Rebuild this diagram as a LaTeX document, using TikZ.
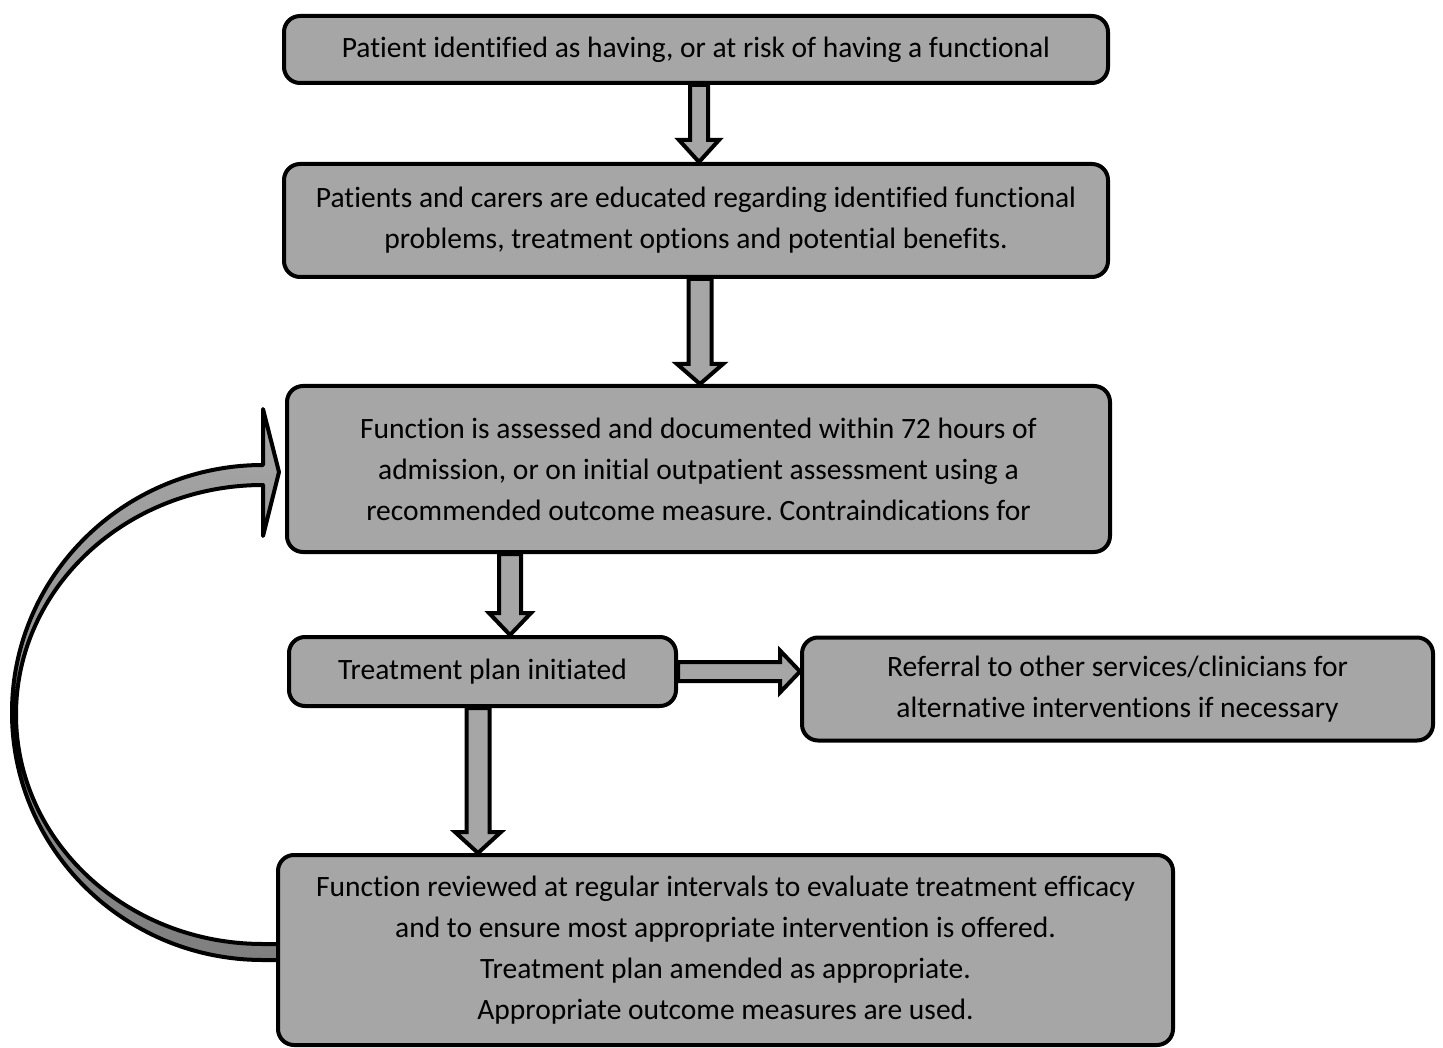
\documentclass[tikz,border=0pt]{standalone}
\usepackage{fontspec}
\setmainfont[Ligatures=NoCommon]{Carlito}
\frenchspacing
\usetikzlibrary{calc,backgrounds}
\definecolor{boxgray}{HTML}{A6A6A6}
\definecolor{loopdark}{HTML}{7F7F7F}
\tikzset{
    stepbox/.style={draw, line width=4pt, fill=boxgray, rounded corners=16pt,
        align=center, inner sep=0pt, font=\fontsize{29.5}{41}\selectfont},
    blockarrow/.style={draw, line width=4pt, fill=boxgray, line join=miter},
}
% block arrow downwards: start, end, half shaft, half head, head length
\newcommand{\downblock}[5]{%
    \draw [blockarrow] ($(#1)+(-#3,0)$) -- ($(#1 |- #2)+(-#3,-#5)$)
        -- ($(#1 |- #2)+(-#4,-#5)$) -- (#1 |- #2) -- ($(#1 |- #2)+(#4,-#5)$)
        -- ($(#1 |- #2)+(#3,-#5)$) -- ($(#1)+(#3,0)$) -- cycle;}
% block arrow to the right
\newcommand{\rightblock}[5]{%
    \draw [blockarrow] ($(#1)+(0,-#3)$) -- ($(#2 |- #1)+(-#5,-#3)$)
        -- ($(#2 |- #1)+(-#5,-#4)$) -- (#2 |- #1) -- ($(#2 |- #1)+(-#5,#4)$)
        -- ($(#2 |- #1)+(-#5,#3)$) -- ($(#1)+(0,#3)$) -- cycle;}
\begin{document}
\begin{tikzpicture}[x=1pt, y=-1pt]
    \useasboundingbox (0, 0) rectangle (1443, 1048);
    \node [stepbox, minimum width=824, minimum height=67] (identify) at (696, 49.5)
        {Patient identified as having, or at risk of having a functional};
    \node [stepbox, minimum width=824, minimum height=113] (educate) at (696, 220.5)
        {Patients and carers are educated regarding identified functional\\
        problems, treatment options and potential benefits.};
    \node [stepbox, minimum width=823, minimum height=166] (assess) at (698.5, 469)
        {Function is assessed and documented within 72 hours of\\
        admission, or on initial outpatient assessment using a\\
        recommended outcome measure. Contraindications for};
    \node [stepbox, minimum width=387, minimum height=69] (plan) at (482.5, 671.5)
        {Treatment plan initiated};
    \node [stepbox, minimum width=631, minimum height=103] (referral) at (1117.5, 689)
        {Referral to other services/clinicians for\\
        alternative interventions if necessary};
    \node [stepbox, minimum width=895, minimum height=190] (review) at (725.5, 950)
        {Function reviewed at regular intervals to evaluate treatment efficacy\\
        and to ensure most appropriate intervention is offered.\\
        Treatment plan amended as appropriate.\\
        Appropriate outcome measures are used.};

    \coordinate (a1) at ([xshift=3pt]identify.south);
    \coordinate (a2) at ([xshift=4pt]educate.south);
    \coordinate (a3) at ([xshift=-188.5pt]assess.south);
    \coordinate (a5) at ([xshift=-4.5pt]plan.south);
    \downblock{a1}{educate.north}{9}{20}{22}
    \downblock{a2}{assess.north}{11.5}{23}{20}
    \downblock{a3}{plan.north}{11}{21}{22}
    \downblock{a5}{review.north}{11.5}{23}{21}
    \rightblock{plan.east}{referral.west}{9.5}{21}{20}

    % loop back from review to assess
    \begin{scope}[on background layer, shift={(assess.west)}]
        \draw [line width=4pt, line join=round, top color=boxgray, bottom color=loopdark]
            (-22, -4) -- (-22, -60) -- (-6, 3) -- (-22, 67) -- (-22, 16)
            .. controls (-158.4, 16) and (-269, 118.7) .. (-269, 245.5)
            .. controls (-269, 372.3) and (-158.4, 475) .. (-22, 475)
            -- (0, 475) -- (0, 491) -- (-22, 491)
            .. controls (-160.6, 491) and (-273, 380.2) .. (-273, 243.5)
            .. controls (-273, 106.8) and (-160.6, -4) .. cycle;
    \end{scope}
\end{tikzpicture}
\end{document}
